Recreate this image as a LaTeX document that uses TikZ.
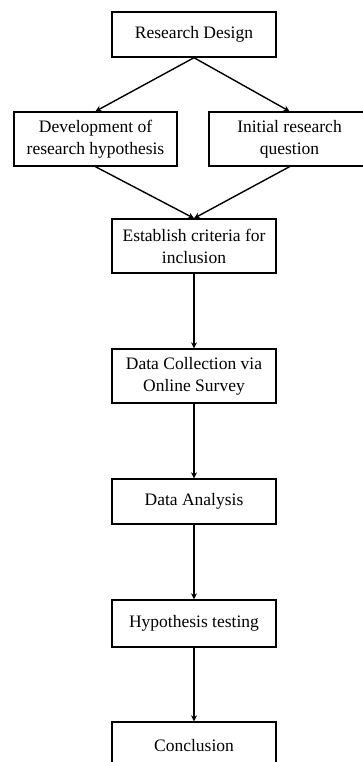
\documentclass[tikz,border=0pt]{standalone}
\usepackage{fontspec}
\setmainfont{Liberation Serif}
\usetikzlibrary{arrows.meta}
\begin{document}
\begin{tikzpicture}[x=1pt,y=-1pt,
  box/.style={draw,line width=1.4pt,inner sep=0pt,align=center,
    font=\fontsize{17.5}{22}\selectfont},
  arr/.style={line width=1.4pt,-{Stealth[length=6pt,width=6pt]}}]
\useasboundingbox (0,0) rectangle (363,762);
\clip (0,0) rectangle (363,762);
\fill[white] (0,0) rectangle (363,762);
\node[box,minimum width=164pt,minimum height=45pt] (rd) at (194,34.5) {Research Design};
\node[box,minimum width=163pt,minimum height=54pt] (dev) at (95.5,139) {Development of\\research hypothesis};
\node[box,minimum width=161pt,minimum height=54pt] (irq) at (289.5,139) {Initial research\\question};
\node[box,minimum width=164pt,minimum height=54pt] (est) at (194,246) {Establish criteria for\\inclusion};
\node[box,minimum width=164pt,minimum height=54pt] (dc) at (194,376) {Data Collection via\\Online Survey};
\node[box,minimum width=164pt,minimum height=45pt] (da) at (194,501.5) {Data Analysis};
\node[box,minimum width=164pt,minimum height=47pt] (ht) at (194,623.5) {Hypothesis testing};
\node[box,minimum width=164pt,minimum height=58pt,text depth=0pt] (cc) at (194,751) {\raisebox{12pt}{Conclusion}};
\draw[arr] (rd.south) -- (dev.north);
\draw[arr] (rd.south) -- (irq.north);
\draw[arr] (dev.south) -- (est.north);
\draw[arr] (irq.south) -- (est.north);
\draw[arr] (est) -- (dc);
\draw[arr] (dc) -- (da);
\draw[arr] (da) -- (ht);
\draw[arr] (ht) -- (cc);
\end{tikzpicture}
\end{document}
